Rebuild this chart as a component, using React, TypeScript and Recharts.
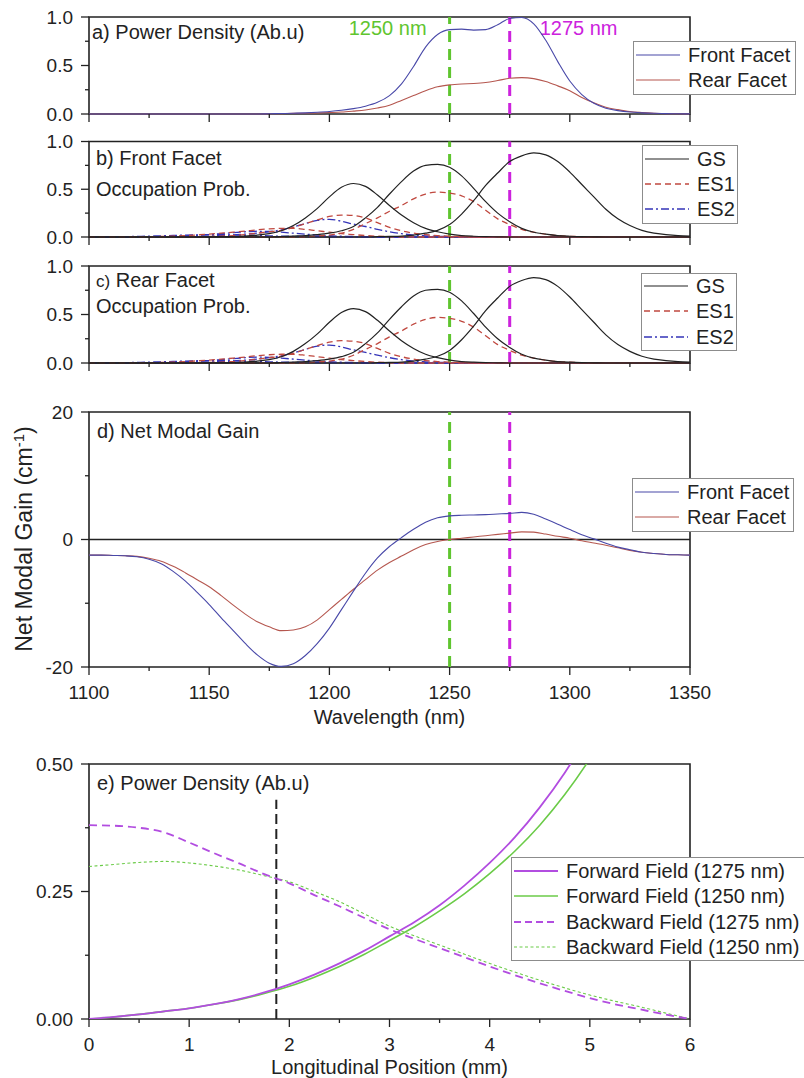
import React from "react";
import {
  LineChart,
  Line,
  XAxis,
  YAxis,
  ReferenceLine,
  ReferenceArea,
  Legend,
} from "recharts";

// page + plot geometry
const W = 804;
const H = 1078;
const PLOT_LEFT = 89;
const PLOT_RIGHT = 690;
const XH = 40;
const FONT = "'Liberation Sans', Arial, Helvetica, sans-serif";

const INK = "#222222";
const GREEN = "#5fc52f";
const MAGENTA = "#cc22dd";
const BLUE = "#4848a8";
const ROSE = "#b5574f";
const ES1_RED = "#c0483f";
const ES2_BLUE = "#3434b8";
const PURPLE = "#b24de0";
const LGREEN = "#6bcb48";

const TS = 8;
const TS_MINOR = 4;

// ---- wavelength data (nm), 5 nm grid from 1100 to 1350 ----
const WL = Array.from({ length: 51 }, (_, i) => 1100 + 5 * i);
const WL_TICKS = [1100, 1125, 1150, 1175, 1200, 1225, 1250, 1275, 1300, 1325, 1350];
const WL_MAJOR = [1100, 1150, 1200, 1250, 1300, 1350];
const MARK_1250 = 1250;
const MARK_1275 = 1275;

// a) power density
const FRONT_PD = [
  0, 0, 0, 0, 0, 0, 0, 0, 0, 0, 0, 0, 0, 0, 0,
  0.003, 0.005, 0.008, 0.012, 0.018, 0.026, 0.038, 0.055, 0.08, 0.12, 0.19, 0.31, 0.49, 0.69, 0.82,
  0.87, 0.875, 0.865, 0.87, 0.92, 0.985, 0.995, 0.93, 0.76, 0.54, 0.34, 0.2, 0.11, 0.06, 0.035,
  0.02, 0.012, 0.007, 0.004, 0.002, 0.001,
];
const REAR_PD = [
  0, 0, 0, 0, 0, 0, 0, 0, 0, 0, 0, 0, 0, 0, 0,
  0.002, 0.004, 0.006, 0.008, 0.011, 0.015, 0.02, 0.03, 0.042, 0.062, 0.09, 0.14, 0.19, 0.24, 0.28,
  0.3, 0.31, 0.315, 0.325, 0.345, 0.368, 0.375, 0.365, 0.335, 0.29, 0.24, 0.17, 0.115, 0.07, 0.045,
  0.025, 0.015, 0.008, 0.004, 0.002, 0.001,
];

// b) / c) occupation probabilities
const GS1 = [
  0, 0, 0, 0, 0, 0, 0, 0, 0, 0,
  0.002, 0.003, 0.005, 0.01, 0.02, 0.035, 0.065, 0.12, 0.2, 0.3, 0.42, 0.52, 0.56, 0.53, 0.44,
  0.33, 0.23, 0.15, 0.09, 0.055, 0.03, 0.015, 0.008, 0.004, 0.002,
  0, 0, 0, 0, 0, 0, 0, 0, 0, 0, 0, 0, 0, 0, 0, 0,
];
const GS2 = [
  0, 0, 0, 0, 0, 0, 0, 0, 0, 0, 0, 0, 0, 0, 0, 0,
  0.005, 0.01, 0.015, 0.025, 0.04, 0.065, 0.11, 0.2, 0.31, 0.45, 0.58, 0.69, 0.75, 0.76, 0.73,
  0.64, 0.51, 0.37, 0.25, 0.16, 0.09, 0.05, 0.03, 0.015, 0.008, 0.004, 0.002,
  0, 0, 0, 0, 0, 0, 0, 0,
];
const GS3 = [
  0, 0, 0, 0, 0, 0, 0, 0, 0, 0, 0, 0, 0, 0, 0, 0, 0, 0, 0, 0, 0, 0, 0, 0,
  0.003, 0.006, 0.01, 0.02, 0.04, 0.07, 0.13, 0.24, 0.38, 0.54, 0.67, 0.79, 0.85, 0.88, 0.86,
  0.79, 0.68, 0.55, 0.42, 0.29, 0.19, 0.12, 0.07, 0.04, 0.025, 0.015, 0.01,
];
const ES1_A = [
  0, 0, 0, 0, 0, 0, 0, 0, 0, 0, 0, 0, 0, 0, 0, 0, 0, 0, 0,
  0.01, 0.02, 0.04, 0.08, 0.14, 0.2, 0.27, 0.33, 0.4, 0.45, 0.47, 0.46, 0.43, 0.37, 0.28, 0.19,
  0.13, 0.08, 0.05, 0.03, 0.015, 0.008, 0.004,
  0, 0, 0, 0, 0, 0, 0, 0, 0,
];
const ES1_B = [
  0, 0, 0, 0, 0, 0, 0, 0, 0,
  0.003, 0.006, 0.01, 0.015, 0.025, 0.04, 0.055, 0.07, 0.1, 0.14, 0.18, 0.215, 0.23, 0.225, 0.2,
  0.15, 0.1, 0.065, 0.04, 0.025, 0.015, 0.008, 0.004,
  0, 0, 0, 0, 0, 0, 0, 0, 0, 0, 0, 0, 0, 0, 0, 0, 0, 0, 0,
];
const ES1_C = [
  0, 0, 0, 0, 0,
  0.003, 0.005, 0.01, 0.015, 0.022, 0.03, 0.04, 0.05, 0.062, 0.075, 0.085, 0.09, 0.09, 0.08,
  0.065, 0.05, 0.035, 0.025, 0.015, 0.008, 0.004,
  0, 0, 0, 0, 0, 0, 0, 0, 0, 0, 0, 0, 0, 0, 0, 0, 0, 0, 0, 0, 0, 0, 0, 0, 0,
];
const ES2_A = [
  0, 0, 0, 0, 0, 0, 0, 0,
  0.005, 0.007, 0.01, 0.015, 0.02, 0.03, 0.04, 0.055, 0.075, 0.105, 0.14, 0.175, 0.185, 0.165,
  0.135, 0.11, 0.08, 0.055, 0.035, 0.02, 0.012, 0.007, 0.004,
  0, 0, 0, 0, 0, 0, 0, 0, 0, 0, 0, 0, 0, 0, 0, 0, 0, 0, 0, 0,
];
const ES2_B = [
  0, 0, 0, 0, 0, 0,
  0.005, 0.008, 0.012, 0.018, 0.025, 0.035, 0.045, 0.055, 0.06, 0.058, 0.05, 0.04, 0.03, 0.02,
  0.013, 0.008, 0.005, 0.002,
  0, 0, 0, 0, 0, 0, 0, 0, 0, 0, 0, 0, 0, 0, 0, 0, 0, 0, 0, 0, 0, 0, 0, 0, 0, 0, 0,
];
const ES2_C = [
  0, 0,
  0.002, 0.004, 0.006, 0.009, 0.012, 0.016, 0.02, 0.023, 0.025, 0.024, 0.022, 0.018, 0.015,
  0.012, 0.009, 0.007, 0.005, 0.003, 0.002,
  0, 0, 0, 0, 0, 0, 0, 0, 0, 0, 0, 0, 0, 0, 0, 0, 0, 0, 0, 0, 0, 0, 0, 0, 0, 0, 0, 0, 0, 0,
];

// d) net modal gain (cm^-1)
const GAIN_FRONT = [
  -2.45, -2.45, -2.5, -2.55, -2.7, -3.1, -3.8, -5.0, -6.5, -8.3,
  -10.2, -12.3, -14.3, -16.3, -18.1, -19.4, -19.9, -19.5, -18.2, -16.3,
  -13.9, -11.0, -8.1, -5.3, -2.9, -1.1, 0.3, 1.6, 2.7, 3.4,
  3.7, 3.8, 3.85, 3.9, 4.0, 4.1, 4.25, 3.95, 3.2, 2.4,
  1.55, 0.75, 0.1, -0.6, -1.2, -1.6, -2.0, -2.2, -2.35, -2.4, -2.45,
];
const GAIN_REAR = [
  -2.45, -2.45, -2.5, -2.55, -2.65, -2.95, -3.4, -4.2, -5.2, -6.3,
  -7.4, -8.8, -10.3, -11.7, -12.9, -13.7, -14.3, -14.2, -13.7, -12.6,
  -11.0, -9.4, -7.8, -6.3, -4.8, -3.6, -2.6, -1.6, -0.8, -0.3,
  0.0, 0.2, 0.4, 0.6, 0.8, 1.0, 1.2, 1.15, 0.85, 0.5,
  0.2, -0.2, -0.55, -0.9, -1.3, -1.7, -2.0, -2.2, -2.35, -2.4, -2.45,
];

// e) longitudinal power density, 0.25 mm grid
const POS = Array.from({ length: 25 }, (_, i) => i * 0.25);
const POS_TICKS = [0, 0.5, 1, 1.5, 2, 2.5, 3, 3.5, 4, 4.5, 5, 5.5, 6];
const POS_MAJOR = [0, 1, 2, 3, 4, 5, 6];
const MARK_POS = 1.87;
const MARK_POS_TOP = 0.43;
const FWD_1275 = [
  0, 0.004, 0.009, 0.015, 0.021, 0.029, 0.039, 0.052, 0.068, 0.087, 0.109, 0.134, 0.162,
  0.19, 0.223, 0.262, 0.306, 0.356, 0.415, 0.483, 0.562, 0.65, 0.75, 0.87, 1.0,
];
const FWD_1250 = [
  0, 0.004, 0.009, 0.015, 0.021, 0.029, 0.038, 0.05, 0.064, 0.082, 0.103, 0.127, 0.154,
  0.181, 0.212, 0.246, 0.285, 0.329, 0.38, 0.44, 0.51, 0.59, 0.68, 0.79, 0.91,
];
const BWD_1275 = [
  0.38, 0.379, 0.375, 0.366, 0.346, 0.325, 0.305, 0.284, 0.266, 0.243, 0.221, 0.198, 0.176,
  0.157, 0.139, 0.121, 0.103, 0.086, 0.07, 0.055, 0.041, 0.029, 0.019, 0.009, 0,
];
const BWD_1250 = [
  0.299, 0.303, 0.307, 0.309, 0.306, 0.3, 0.292, 0.281, 0.269, 0.25, 0.23, 0.206, 0.182,
  0.163, 0.145, 0.127, 0.109, 0.092, 0.076, 0.061, 0.047, 0.035, 0.024, 0.012, 0,
];

const spec = WL.map((w, i) => ({
  w,
  front: FRONT_PD[i],
  rear: REAR_PD[i],
  gs1: GS1[i],
  gs2: GS2[i],
  gs3: GS3[i],
  es1a: ES1_A[i],
  es1b: ES1_B[i],
  es1c: ES1_C[i],
  es2a: ES2_A[i],
  es2b: ES2_B[i],
  es2c: ES2_C[i],
  gFront: GAIN_FRONT[i],
  gRear: GAIN_REAR[i],
}));

const field = POS.map((p, i) => ({
  p,
  f75: FWD_1275[i],
  f50: FWD_1250[i],
  b75: BWD_1275[i],
  b50: BWD_1250[i],
}));

// ---------- small render helpers ----------
function XTick(props: any) {
  const { x, payload, majors, labels, axisY } = props;
  const v = payload.value;
  const major = majors.includes(v);
  return (
    <g>
      <line x1={x} x2={x} y1={axisY} y2={axisY + (major ? TS : TS_MINOR)} stroke={INK} strokeWidth={1.3} />
      {labels && major && (
        <text x={x} y={axisY + 19} dy="0.71em" textAnchor="middle" fontSize={19} fill={INK} fontFamily={FONT}>
          {v}
        </text>
      )}
    </g>
  );
}

function YTick(props: any) {
  const { y, payload, majors, fmt } = props;
  const v = payload.value;
  const major = majors.includes(v);
  return (
    <g>
      <line x1={PLOT_LEFT - (major ? TS : TS_MINOR)} x2={PLOT_LEFT} y1={y} y2={y} stroke={INK} strokeWidth={1.3} />
      {major && (
        <text x={PLOT_LEFT - 16} y={y} dy="0.36em" textAnchor="end" fontSize={19} fill={INK} fontFamily={FONT}>
          {fmt(v)}
        </text>
      )}
    </g>
  );
}

function FrameTitle(props: any) {
  const { viewBox, lines, dx } = props;
  return (
    <g>
      {lines.map((ln: any, i: number) => (
        <text key={i} x={viewBox.x + dx} y={viewBox.y + ln.dy} fontSize={20} fill={INK} fontFamily={FONT}>
          {ln.t}
        </text>
      ))}
    </g>
  );
}

function WlTag(props: any) {
  const { viewBox, text, color, dx, anchor } = props;
  return (
    <text x={viewBox.x + dx} y={viewBox.y + 18} textAnchor={anchor} fill={color} fontSize={20} fontFamily={FONT}>
      {text}
    </text>
  );
}

function AxisTitle(props: any) {
  const { text, baseY } = props;
  return (
    <text x={(PLOT_LEFT + PLOT_RIGHT) / 2} y={baseY} textAnchor="middle" fontSize={20} fill={INK} fontFamily={FONT}>
      {text}
    </text>
  );
}

function GainTitle(props: any) {
  const { midY } = props;
  const cx = 32;
  return (
    <text
      x={cx}
      y={midY}
      transform={`rotate(-90 ${cx} ${midY})`}
      textAnchor="middle"
      fontSize={23}
      fill={INK}
      fontFamily={FONT}
    >
      Net Modal Gain (cm
      <tspan dy={-8} fontSize={15}>-1</tspan>
      <tspan dy={8}>)</tspan>
    </text>
  );
}

type Item = { name: string; color: string; dash?: string; width?: number };

function LegendBox({ items, w, h, rows }: { items: Item[]; w: number; h: number; rows: number[] }) {
  return (
    <svg width={w} height={h} style={{ display: "block" }}>
      <rect x={0.5} y={0.5} width={w - 1} height={h - 1} fill="#fff" stroke="#8c8c8c" />
      {items.map((it, i) => (
        <g key={it.name}>
          <line
            x1={3}
            x2={47}
            y1={rows[i]}
            y2={rows[i]}
            stroke={it.color}
            strokeDasharray={it.dash}
            strokeWidth={it.width ?? 1.2}
          />
          <text x={55} y={rows[i] + 7} fontSize={20} fill={INK} fontFamily={FONT}>
            {it.name}
          </text>
        </g>
      ))}
    </svg>
  );
}

function legendAt(left: number, top: number, w: number, h: number, items: Item[], rows: number[]) {
  return (
    <Legend
      layout="vertical"
      align="center"
      verticalAlign="middle"
      content={() => <LegendBox items={items} w={w} h={h} rows={rows} />}
      wrapperStyle={{ position: "absolute", left, top, width: w, height: h, lineHeight: 0 }}
    />
  );
}

const margins = (top: number, bottom: number) => ({
  top,
  right: W - PLOT_RIGHT,
  left: 0,
  bottom: H - bottom - XH,
});

const layer: React.CSSProperties = { position: "absolute", left: 0, top: 0 };

const wlAxis = (axisY: number, labels: boolean) => (
  <XAxis
    dataKey="w"
    type="number"
    domain={[1100, 1350]}
    ticks={WL_TICKS}
    interval={0}
    height={XH}
    axisLine={false}
    tickLine={false}
    tick={(p: any) => <XTick {...p} majors={WL_MAJOR} labels={labels} axisY={axisY} />}
  />
);

const probAxis = () => (
  <YAxis
    type="number"
    domain={[0, 1]}
    ticks={[0, 0.25, 0.5, 0.75, 1]}
    interval={0}
    width={PLOT_LEFT}
    axisLine={false}
    tickLine={false}
    tick={(p: any) => <YTick {...p} majors={[0, 0.5, 1]} fmt={(v: number) => v.toFixed(1)} />}
  />
);

const markLines = () => [
  <ReferenceLine key="g" x={MARK_1250} stroke={GREEN} strokeWidth={3} strokeDasharray="11 7" />,
  <ReferenceLine key="m" x={MARK_1275} stroke={MAGENTA} strokeWidth={3} strokeDasharray="11 7" />,
];

const occItems: Item[] = [
  { name: "GS", color: INK },
  { name: "ES1", color: ES1_RED, dash: "6 4", width: 1.4 },
  { name: "ES2", color: ES2_BLUE, dash: "8 3 2 3", width: 1.4 },
];

const occSeries = () => [
  <Line key="es2c" dataKey="es2c" stroke={ES2_BLUE} strokeWidth={1.3} strokeDasharray="8 3 2 3" dot={false} type="monotone" isAnimationActive={false} />,
  <Line key="es2b" dataKey="es2b" stroke={ES2_BLUE} strokeWidth={1.3} strokeDasharray="8 3 2 3" dot={false} type="monotone" isAnimationActive={false} />,
  <Line key="es2a" dataKey="es2a" stroke={ES2_BLUE} strokeWidth={1.3} strokeDasharray="8 3 2 3" dot={false} type="monotone" isAnimationActive={false} />,
  <Line key="es1c" dataKey="es1c" stroke={ES1_RED} strokeWidth={1.3} strokeDasharray="6 4" dot={false} type="monotone" isAnimationActive={false} />,
  <Line key="es1b" dataKey="es1b" stroke={ES1_RED} strokeWidth={1.3} strokeDasharray="6 4" dot={false} type="monotone" isAnimationActive={false} />,
  <Line key="es1a" dataKey="es1a" stroke={ES1_RED} strokeWidth={1.3} strokeDasharray="6 4" dot={false} type="monotone" isAnimationActive={false} />,
  <Line key="gs1" dataKey="gs1" stroke={INK} strokeWidth={1.2} dot={false} type="monotone" isAnimationActive={false} />,
  <Line key="gs2" dataKey="gs2" stroke={INK} strokeWidth={1.2} dot={false} type="monotone" isAnimationActive={false} />,
  <Line key="gs3" dataKey="gs3" stroke={INK} strokeWidth={1.2} dot={false} type="monotone" isAnimationActive={false} />,
];

export default function App() {
  return (
    <div style={{ position: "absolute", left: 0, top: 0, width: W, height: H, background: "#fff", overflow: "hidden" }}>
      {/* a) power density vs wavelength */}
      <div style={layer}>
        <LineChart width={W} height={H} data={spec} margin={margins(17, 114)}>
          {wlAxis(114, false)}
          {probAxis()}
          {markLines()[0]}
          <ReferenceLine
            x={MARK_1250}
            stroke="none"
            label={<WlTag text="1250 nm" color={GREEN} dx={-23} anchor="end" />}
          />
          {markLines()[1]}
          <ReferenceLine
            x={MARK_1275}
            stroke="none"
            label={<WlTag text="1275 nm" color={MAGENTA} dx={30} anchor="start" />}
          />
          <Line dataKey="rear" stroke={ROSE} strokeWidth={1.1} dot={false} type="monotone" isAnimationActive={false} />
          <Line dataKey="front" stroke={BLUE} strokeWidth={1.1} dot={false} type="monotone" isAnimationActive={false} />
          <ReferenceArea
            x1={1100}
            x2={1350}
            y1={0}
            y2={1}
            fill="none"
            stroke={INK}
            strokeWidth={1.6}
            label={<FrameTitle dx={3} lines={[{ t: "a) Power Density (Ab.u)", dy: 22 }]} />}
          />
          {legendAt(633, 41, 163, 54, [
            { name: "Front Facet", color: BLUE },
            { name: "Rear Facet", color: ROSE },
          ], [14, 39])}
        </LineChart>
      </div>

      {/* b) front facet occupation */}
      <div style={layer}>
        <LineChart width={W} height={H} data={spec} margin={margins(141.5, 237)}>
          {wlAxis(237, false)}
          {probAxis()}
          {markLines()}
          {occSeries()}
          <ReferenceArea
            x1={1100}
            x2={1350}
            y1={0}
            y2={1}
            fill="none"
            stroke={INK}
            strokeWidth={1.6}
            label={
              <FrameTitle
                dx={7}
                lines={[
                  { t: "b) Front Facet", dy: 23 },
                  { t: "Occupation Prob.", dy: 54 },
                ]}
              />
            }
          />
          {legendAt(642, 145, 96, 79, occItems, [14, 39, 64])}
        </LineChart>
      </div>

      {/* c) rear facet occupation */}
      <div style={layer}>
        <LineChart width={W} height={H} data={spec} margin={margins(266, 363)}>
          {wlAxis(363, false)}
          {probAxis()}
          {markLines()}
          {occSeries()}
          <ReferenceArea
            x1={1100}
            x2={1350}
            y1={0}
            y2={1}
            fill="none"
            stroke={INK}
            strokeWidth={1.6}
            label={
              <FrameTitle
                dx={7}
                lines={[
                  { t: <><tspan fontSize={17}>c)</tspan> Rear Facet</>, dy: 21 },
                  { t: "Occupation Prob.", dy: 47 },
                ]}
              />
            }
          />
          {legendAt(641, 273, 96, 78, occItems, [13, 38, 64])}
        </LineChart>
      </div>

      {/* d) net modal gain */}
      <div style={layer}>
        <LineChart width={W} height={H} data={spec} margin={margins(412, 667)}>
          <XAxis
            dataKey="w"
            type="number"
            domain={[1100, 1350]}
            ticks={WL_TICKS}
            interval={0}
            height={XH}
            axisLine={false}
            tickLine={false}
            tick={(p: any) => <XTick {...p} majors={WL_MAJOR} labels axisY={667} />}
            label={<AxisTitle text="Wavelength (nm)" baseY={724} />}
          />
          <YAxis
            type="number"
            domain={[-20, 20]}
            ticks={[-20, -10, 0, 10, 20]}
            interval={0}
            width={PLOT_LEFT}
            axisLine={false}
            tickLine={false}
            tick={(p: any) => <YTick {...p} majors={[-20, 0, 20]} fmt={(v: number) => String(v)} />}
            label={<GainTitle midY={539} />}
          />
          <ReferenceLine y={0} stroke={INK} strokeWidth={1.5} />
          {markLines()}
          <Line dataKey="gRear" stroke={ROSE} strokeWidth={1.1} dot={false} type="monotone" isAnimationActive={false} />
          <Line dataKey="gFront" stroke={BLUE} strokeWidth={1.1} dot={false} type="monotone" isAnimationActive={false} />
          <ReferenceArea
            x1={1100}
            x2={1350}
            y1={-20}
            y2={20}
            fill="none"
            stroke={INK}
            strokeWidth={1.6}
            label={<FrameTitle dx={8} lines={[{ t: "d) Net Modal Gain", dy: 26 }]} />}
          />
          {legendAt(632, 478, 162, 54, [
            { name: "Front Facet", color: BLUE },
            { name: "Rear Facet", color: ROSE },
          ], [14, 39])}
        </LineChart>
      </div>

      {/* e) longitudinal power density */}
      <div style={layer}>
        <LineChart width={W} height={H} data={field} margin={margins(764, 1019)}>
          <XAxis
            dataKey="p"
            type="number"
            domain={[0, 6]}
            ticks={POS_TICKS}
            interval={0}
            height={XH}
            axisLine={false}
            tickLine={false}
            tick={(p: any) => <XTick {...p} majors={POS_MAJOR} labels axisY={1019} />}
            label={<AxisTitle text="Longitudinal Position (mm)" baseY={1074} />}
          />
          <YAxis
            type="number"
            domain={[0, 0.5]}
            allowDataOverflow
            ticks={[0, 0.125, 0.25, 0.375, 0.5]}
            interval={0}
            width={PLOT_LEFT}
            axisLine={false}
            tickLine={false}
            tick={(p: any) => <YTick {...p} majors={[0, 0.25, 0.5]} fmt={(v: number) => v.toFixed(2)} />}
          />
          <ReferenceLine
            segment={[
              { x: MARK_POS, y: 0 },
              { x: MARK_POS, y: MARK_POS_TOP },
            ]}
            stroke={INK}
            strokeWidth={2}
            strokeDasharray="10 5"
          />
          <Line dataKey="b50" stroke={LGREEN} strokeWidth={1.1} strokeDasharray="3 2.5" dot={false} type="monotone" isAnimationActive={false} />
          <Line dataKey="b75" stroke={PURPLE} strokeWidth={1.8} strokeDasharray="8 5" dot={false} type="monotone" isAnimationActive={false} />
          <Line dataKey="f50" stroke={LGREEN} strokeWidth={1.6} dot={false} type="monotone" isAnimationActive={false} />
          <Line dataKey="f75" stroke={PURPLE} strokeWidth={1.8} dot={false} type="monotone" isAnimationActive={false} />
          <ReferenceArea
            x1={0}
            x2={6}
            y1={0}
            y2={0.5}
            fill="none"
            stroke={INK}
            strokeWidth={1.6}
            label={<FrameTitle dx={8} lines={[{ t: "e) Power Density (Ab.u)", dy: 26 }]} />}
          />
          {legendAt(511, 857, 300, 104, [
            { name: "Forward Field (1275 nm)", color: PURPLE, width: 1.8 },
            { name: "Forward Field (1250 nm)", color: LGREEN, width: 1.6 },
            { name: "Backward Field (1275 nm)", color: PURPLE, dash: "7 4", width: 1.8 },
            { name: "Backward Field (1250 nm)", color: LGREEN, dash: "3 2.5", width: 1.1 },
          ], [14, 39, 65, 90])}
        </LineChart>
      </div>
    </div>
  );
}
